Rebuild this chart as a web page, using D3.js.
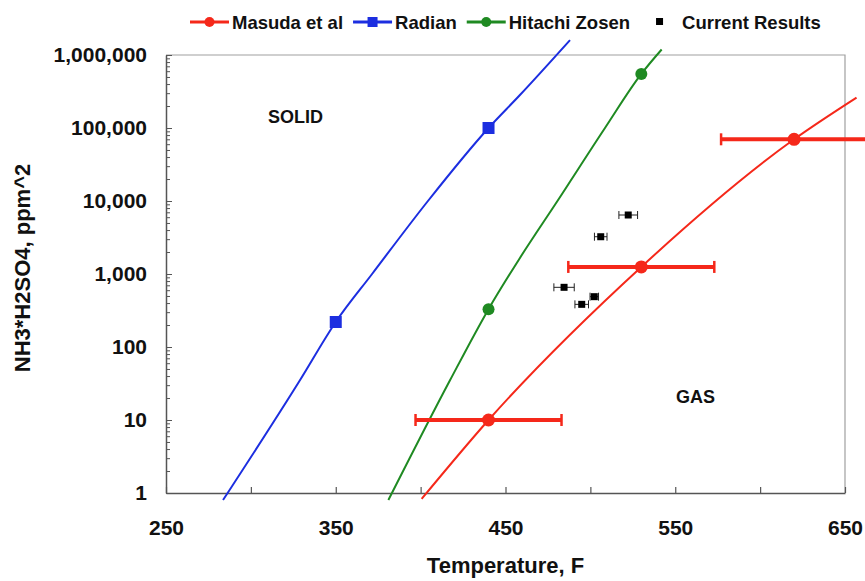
<!DOCTYPE html>
<html>
<head>
<meta charset="utf-8">
<script src="https://cdn.jsdelivr.net/npm/d3@7"></script>
<style>
  body { margin: 0; background: #fff; }
  text { font-family: "Liberation Sans", Arial, sans-serif; font-weight: bold; fill: #111; }
</style>
</head>
<body>
<div id="chart"></div>
<script>
// values
var xTicks = [250, 300, 350, 400, 450, 500, 550, 600, 650];
var xLabels = [250, 350, 450, 550, 650];

var masudaT = [440, 530, 620];
var masudaV = [10, 1250, 70000];
var masudaErr = [43, 43, 43];
var masudaCurveT = [400.6, 440, 530, 620, 656.8];
var masudaCurveV = [0.83, 10, 1250, 70000, 261000];

var radianT = [350, 440];
var radianV = [220, 100000];
var radianCurveT = [283.6, 328.9, 350, 371.4, 404.3, 440, 458.5, 488];
var radianCurveV = [0.8, 35, 220, 1000, 10000, 100000, 283000, 1600000];

var hitachiT = [440, 530];
var hitachiV = [330, 550000];
var hitachiCurveT = [381, 417.3, 440, 458.5, 480.6, 508.6, 530, 542];
var hitachiCurveV = [0.8, 35, 330, 1660, 10000, 100000, 550000, 1190000];

var currentT = [522.3, 506.1, 484.5, 502.3, 494.9];
var currentV = [6430, 3240, 657, 489, 384];
var currentErr = [5.5, 3.7, 6, 2.5, 4];

var seriesNames = ["Masuda et al", "Radian", "Hitachi Zosen", "Current Results"];

var RED = "#f5281a", BLUE = "#1c2ee0", GREEN = "#1f8a22";

var width = 865, height = 581,
    pLeft = 166, pRight = 845, pTop = 55, pBottom = 493;

var svg = d3.select("#chart").append("svg").attr("width", width).attr("height", height);

var x = d3.scaleLinear().domain([250, 650]).range([pLeft, pRight]);
var y = d3.scaleLog().domain([1, 1e6]).range([pBottom, pTop]);

// frame (top + right light grey)
svg.append("path")
    .attr("d", "M" + pLeft + "," + pTop + "H" + pRight + "V" + pBottom)
    .attr("fill", "none").attr("stroke", "#a0a0a0").attr("stroke-width", 1.2);

// x axis
var xAxis = svg.append("g").attr("transform", "translate(0," + pBottom + ")")
    .call(d3.axisBottom(x).tickValues(xTicks).tickSizeInner(-6).tickSizeOuter(0).tickPadding(27)
        .tickFormat(function(d) { return xLabels.indexOf(d) >= 0 ? d : ""; }));
xAxis.select(".domain").attr("stroke", "#555").attr("stroke-width", 1.5);
xAxis.selectAll(".tick line").attr("stroke", "#555").attr("stroke-width", 1.2);
xAxis.selectAll(".tick text").attr("font-size", 21).attr("fill", "#111")
    .style("font-family", "'Liberation Sans', Arial, sans-serif").style("font-weight", "bold");

// y axis, log with minor ticks
var yTicks = y.ticks();
function isMajor(d) { return Math.abs(Math.log10(d) - Math.round(Math.log10(d))) < 1e-9; }
var yAxis = svg.append("g").attr("transform", "translate(" + pLeft + ",0)")
    .call(d3.axisLeft(y).tickValues(yTicks).tickSizeInner(-5).tickSizeOuter(0).tickPadding(19)
        .tickFormat(function(d) { return isMajor(d) ? d3.format(",")(d) : ""; }));
yAxis.select(".domain").attr("stroke", "#555").attr("stroke-width", 1.5);
yAxis.selectAll(".tick line").attr("stroke", "#555").attr("stroke-width", 1)
    .attr("x2", function(d) { return isMajor(d) ? 6 : 4; });
yAxis.selectAll(".tick text").attr("font-size", 21).attr("fill", "#111")
    .style("font-family", "'Liberation Sans', Arial, sans-serif").style("font-weight", "bold");

// axis titles
svg.append("text").attr("x", (pLeft + pRight) / 2).attr("y", 573)
    .attr("text-anchor", "middle").attr("font-size", 22).text("Temperature, F");
svg.append("text").attr("transform", "translate(30,268) rotate(-90)")
    .attr("text-anchor", "middle").attr("font-size", 22).text("NH3*H2SO4, ppm^2");

// region labels
svg.append("text").attr("x", 268).attr("y", 123).attr("font-size", 18).text("SOLID");
svg.append("text").attr("x", 676).attr("y", 403).attr("font-size", 18).text("GAS");

var line = d3.line()
    .x(function(d) { return x(d[0]); })
    .y(function(d) { return y(d[1]); })
    .curve(d3.curveMonotoneX);

function curve(ts, vs, color) {
    svg.append("path").datum(d3.zip(ts, vs))
        .attr("d", line).attr("fill", "none")
        .attr("stroke", color).attr("stroke-width", 2);
}
curve(radianCurveT, radianCurveV, BLUE);
curve(hitachiCurveT, hitachiCurveV, GREEN);
curve(masudaCurveT, masudaCurveV, RED);

// Masuda error bars
var mErr = svg.append("g").selectAll("g").data(d3.zip(masudaT, masudaV, masudaErr)).enter().append("g")
    .attr("stroke", RED);
mErr.append("line")
    .attr("x1", function(d) { return x(d[0] - d[2]); }).attr("x2", function(d) { return x(d[0] + d[2]); })
    .attr("y1", function(d) { return y(d[1]); }).attr("y2", function(d) { return y(d[1]); })
    .attr("stroke-width", 4);
[-1, 1].forEach(function(s) {
    mErr.append("line")
        .attr("x1", function(d) { return x(d[0] + s * d[2]); }).attr("x2", function(d) { return x(d[0] + s * d[2]); })
        .attr("y1", function(d) { return y(d[1]) - 6; }).attr("y2", function(d) { return y(d[1]) + 6; })
        .attr("stroke-width", 2.5);
});

// markers
svg.append("g").selectAll("circle").data(d3.zip(masudaT, masudaV)).enter().append("circle")
    .attr("cx", function(d) { return x(d[0]); }).attr("cy", function(d) { return y(d[1]); })
    .attr("r", 6.5).attr("fill", RED);
svg.append("g").selectAll("rect").data(d3.zip(radianT, radianV)).enter().append("rect")
    .attr("x", function(d) { return x(d[0]) - 6; }).attr("y", function(d) { return y(d[1]) - 6; })
    .attr("width", 12).attr("height", 12).attr("fill", BLUE);
svg.append("g").selectAll("circle").data(d3.zip(hitachiT, hitachiV)).enter().append("circle")
    .attr("cx", function(d) { return x(d[0]); }).attr("cy", function(d) { return y(d[1]); })
    .attr("r", 6).attr("fill", GREEN);

// current results with small error bars
var cur = svg.append("g").selectAll("g").data(d3.zip(currentT, currentV, currentErr)).enter().append("g");
cur.append("line")
    .attr("x1", function(d) { return x(d[0] - d[2]); }).attr("x2", function(d) { return x(d[0] + d[2]); })
    .attr("y1", function(d) { return y(d[1]); }).attr("y2", function(d) { return y(d[1]); })
    .attr("stroke", "#222").attr("stroke-width", 1);
[-1, 1].forEach(function(s) {
    cur.append("line")
        .attr("x1", function(d) { return x(d[0] + s * d[2]); }).attr("x2", function(d) { return x(d[0] + s * d[2]); })
        .attr("y1", function(d) { return y(d[1]) - 4; }).attr("y2", function(d) { return y(d[1]) + 4; })
        .attr("stroke", "#222").attr("stroke-width", 1);
});
cur.append("rect")
    .attr("x", function(d) { return x(d[0]) - 3.5; }).attr("y", function(d) { return y(d[1]) - 3.5; })
    .attr("width", 7).attr("height", 7).attr("fill", "#000");

// legend
var legendColors = [RED, BLUE, GREEN, "#000"];
var legendShapes = ["circle", "square", "circle", "small"];
var lx = 190, ly = 22;
seriesNames.forEach(function(name, i) {
    var g = svg.append("g");
    var c = lx + 19.5;
    if (legendShapes[i] !== "small") {
        g.append("line").attr("x1", lx).attr("x2", lx + 39).attr("y1", ly).attr("y2", ly)
            .attr("stroke", legendColors[i]).attr("stroke-width", 3);
    }
    if (legendShapes[i] === "circle") {
        g.append("circle").attr("cx", c).attr("cy", ly).attr("r", 5).attr("fill", legendColors[i]);
    } else if (legendShapes[i] === "square") {
        g.append("rect").attr("x", c - 5).attr("y", ly - 5).attr("width", 10).attr("height", 10).attr("fill", legendColors[i]);
    } else {
        g.append("rect").attr("x", c - 3.5).attr("y", ly - 4).attr("width", 7).attr("height", 7).attr("fill", legendColors[i]);
    }
    var t = g.append("text").attr("x", lx + 42).attr("y", ly + 6.5).attr("font-size", 18.5).text(name);
    lx = lx + 42 + t.node().getComputedTextLength() + 10;
});
</script>
</body>
</html>
